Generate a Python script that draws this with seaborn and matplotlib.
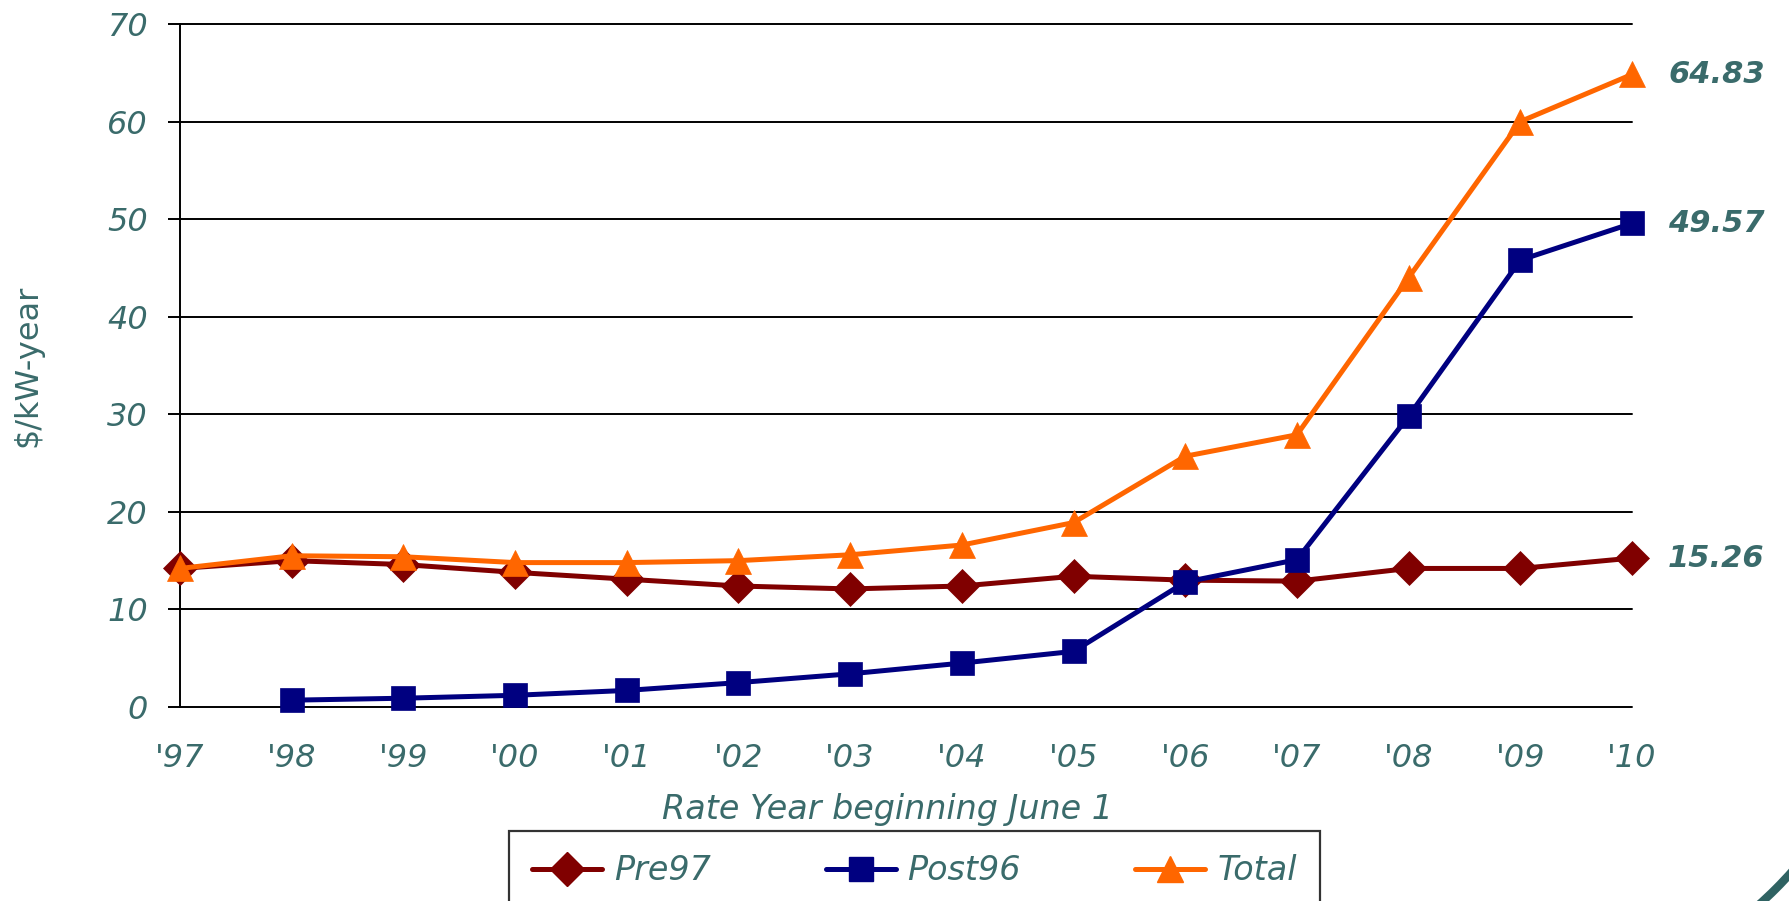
import numpy as np
import matplotlib
matplotlib.use("Agg")
import matplotlib.pyplot as plt
import seaborn as sns
from matplotlib.patches import Arc
from matplotlib.lines import Line2D
from matplotlib.transforms import IdentityTransform

# Chart data
years = [1997, 1998, 1999, 2000, 2001, 2002, 2003, 2004, 2005, 2006, 2007, 2008, 2009, 2010]
year_labels = ["'97", "'98", "'99", "'00", "'01", "'02", "'03", "'04", "'05", "'06", "'07", "'08", "'09", "'10"]
pre97 = [14.2, 15.0, 14.6, 13.8, 13.1, 12.4, 12.1, 12.4, 13.4, 13.0, 12.9, 14.2, 14.2, 15.26]
post96_years = years[1:]
post96 = [0.7, 0.9, 1.2, 1.7, 2.5, 3.4, 4.5, 5.7, 12.8, 15.1, 29.8, 45.8, 49.57]
total = [14.2, 15.5, 15.4, 14.8, 14.8, 15.0, 15.6, 16.6, 18.9, 25.7, 27.9, 44.0, 60.0, 64.83]
y_ticks = [0, 10, 20, 30, 40, 50, 60, 70]

TEAL = "#3A6B6B"
C_PRE = "#800000"
C_POST = "#000080"
C_TOT = "#FF6600"

sns.set_theme(style="white")
plt.rcParams['font.family'] = ['DejaVu Sans']

fig = plt.figure(figsize=(17.9, 9.01), dpi=100)
W, H = 1790, 901
ax = fig.add_axes([180 / W, 1 - 707 / H, (1632 - 180) / W, (707 - 24) / H])

series = [
    ("Pre97", years, pre97, C_PRE, "D", 17),
    ("Post96", post96_years, post96, C_POST, "s", 17),
    ("Total", years, total, C_TOT, "^", 19),
]
handles = []
for name, xs, ys, col, mk, ms in series:
    sns.lineplot(x=xs, y=ys, ax=ax, color=col, linewidth=3.6, marker=mk,
                 markersize=ms, markeredgecolor=col, markeredgewidth=0.5,
                 clip_on=False, zorder=3)
    handles.append(Line2D([], [], color=col, linewidth=3.6, marker=mk,
                          markersize=ms, markeredgecolor=col,
                          solid_capstyle="round"))
    ax.annotate(f"{ys[-1]:.2f}", xy=(xs[-1], ys[-1]), xytext=(26, 0),
                textcoords="offset points", va="center", ha="left",
                fontsize=22, fontweight="bold", fontstyle="italic", color=TEAL)

ax.set_xlim(1997, 2010)
ax.set_ylim(0, 70)
ax.set_xticks(years)
ax.set_xticklabels(year_labels)
ax.set_yticks(y_ticks)
ax.grid(axis="y", color="black", linewidth=1.4)
ax.grid(axis="x", visible=False)
for gl in ax.get_ygridlines():
    gl.set_clip_on(False)
for s in ["top", "right", "bottom"]:
    ax.spines[s].set_visible(False)
ax.spines["left"].set_color("black")
ax.spines["left"].set_linewidth(1.4)
ax.set_axisbelow(True)

ax.tick_params(axis="y", length=9, width=1.4, color="black", pad=14,
               labelsize=23, labelcolor=TEAL, left=True)
ax.tick_params(axis="x", length=0, pad=26, labelsize=23, labelcolor=TEAL)
for lbl in ax.get_xticklabels() + ax.get_yticklabels():
    lbl.set_fontstyle("italic")

ax.set_xlabel("Rate Year beginning June 1", fontsize=24, fontstyle="italic", color=TEAL)
ax.xaxis.set_label_coords((888 - 180) / 1452, (707 - 810) / 683)
ax.xaxis.label.set_va("center")
ax.set_ylabel("$/kW-year", fontsize=23, color=TEAL)
ax.yaxis.set_label_coords((28 - 180) / 1452, (707 - 366) / 683)
ax.yaxis.label.set_va("center")

leg = fig.legend(handles, [s[0] for s in series], loc="upper left",
                 bbox_to_anchor=(509 / W, 1 - 831 / H, (1320 - 509) / W, 0),
                 mode="expand", ncol=3, frameon=True,
                 fancybox=False, fontsize=24, handlelength=2.1,
                 handletextpad=0.35, borderpad=0.7, borderaxespad=0)
leg.get_frame().set_edgecolor("black")
leg.get_frame().set_linewidth(1.6)
for t in leg.get_texts():
    t.set_color(TEAL)
    t.set_fontstyle("italic")

# decorative corner curve
fig.add_artist(Arc((1488, 300), 814, 814, theta1=-52, theta2=-38,
                   transform=IdentityTransform(), color="#2F6262", linewidth=6))

fig.savefig("out.png", dpi=100)
